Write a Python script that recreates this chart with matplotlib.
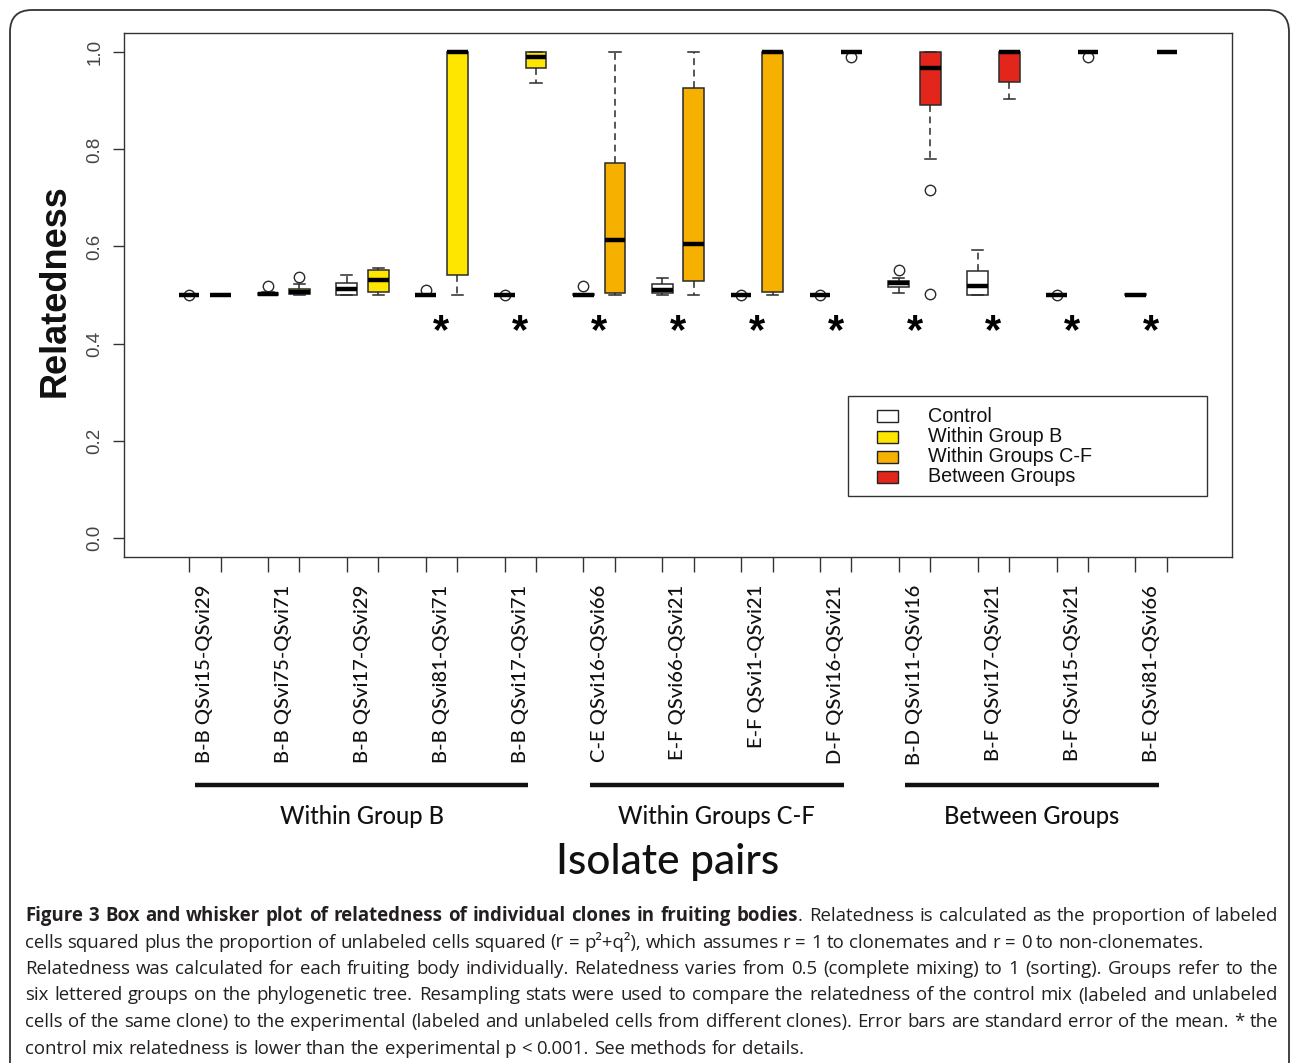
import matplotlib
matplotlib.use("Agg")
import matplotlib.pyplot as plt
import matplotlib.transforms as mtransforms
from matplotlib.patches import Rectangle, FancyBboxPatch
import numpy as np

# ---------------- data ----------------
pair_labels = [
    "B-B QSvi15-QSvi29", "B-B QSvi75-QSvi71", "B-B QSvi17-QSvi29",
    "B-B QSvi81-QSvi71", "B-B QSvi17-QSvi71", "C-E QSvi16-QSvi66",
    "E-F QSvi66-QSvi21", "E-F QSvi1-QSvi21", "D-F QSvi16-QSvi21",
    "B-D QSvi11-QSvi16", "B-F QSvi17-QSvi21", "B-F QSvi15-QSvi21",
    "B-E QSvi81-QSvi66",
]
group_names = ["Within Group B", "Within Groups C-F", "Between Groups"]
pair_group = [0, 0, 0, 0, 0, 1, 1, 1, 1, 2, 2, 2, 2]
significant = [False, False, False, True, True, True, True, True, True,
               True, True, True, True]

# control (labeled + unlabeled of same clone)
ctrl_q1 = [0.500, 0.500, 0.500, 0.500, 0.500, 0.500, 0.505, 0.500, 0.500, 0.517, 0.500, 0.500, 0.500]
ctrl_med = [0.500, 0.502, 0.512, 0.500, 0.500, 0.501, 0.511, 0.500, 0.500, 0.524, 0.519, 0.500, 0.501]
ctrl_q3 = [0.500, 0.504, 0.525, 0.500, 0.500, 0.502, 0.522, 0.500, 0.500, 0.528, 0.549, 0.500, 0.502]
ctrl_lo = [0.500, 0.500, 0.500, 0.500, 0.500, 0.500, 0.500, 0.500, 0.500, 0.505, 0.500, 0.500, 0.500]
ctrl_hi = [0.500, 0.506, 0.542, 0.500, 0.500, 0.503, 0.535, 0.500, 0.500, 0.535, 0.593, 0.500, 0.502]
ctrl_fliers = [[0.501], [0.518], [], [0.510], [0.500], [0.518], [], [0.500], [0.500], [0.552], [], [0.500], []]

# experimental (labeled + unlabeled of different clones)
exp_q1 = [0.500, 0.502, 0.506, 0.541, 0.968, 0.504, 0.528, 0.507, 1.000, 0.891, 0.939, 1.000, 1.000]
exp_med = [0.500, 0.506, 0.531, 1.000, 0.990, 0.613, 0.606, 1.000, 1.000, 0.967, 1.000, 1.000, 1.000]
exp_q3 = [0.500, 0.512, 0.552, 1.000, 1.000, 0.773, 0.926, 1.000, 1.000, 1.000, 1.000, 1.000, 1.000]
exp_lo = [0.500, 0.500, 0.500, 0.500, 0.936, 0.500, 0.500, 0.500, 1.000, 0.780, 0.905, 1.000, 1.000]
exp_hi = [0.500, 0.522, 0.555, 1.000, 1.000, 1.000, 1.000, 1.000, 1.000, 1.000, 1.000, 1.000, 1.000]
exp_fliers = [[], [0.537], [], [], [], [], [], [], [0.991], [0.717, 0.502], [], [0.991], []]

legend_labels = ["Control", "Within Group B", "Within Groups C-F", "Between Groups"]
control_color = "#FFFFFF"
group_colors = ["#FFE600", "#F6B000", "#E2261B"]

caption_lines = [
    [("Figure 3 Box and whisker plot of relatedness of individual clones in fruiting bodies", "bold"),
     (". Relatedness is calculated as the proportion of labeled", "normal")],
    [("cells squared plus the proportion of unlabeled cells squared (r = p\u00b2+q\u00b2), which assumes r = 1 to clonemates and r = 0 to non-clonemates.", "normal")],
    [("Relatedness was calculated for each fruiting body individually. Relatedness varies from 0.5 (complete mixing) to 1 (sorting). Groups refer to the", "normal")],
    [("six lettered groups on the phylogenetic tree. Resampling stats were used to compare the relatedness of the control mix (labeled and unlabeled", "normal")],
    [("cells of the same clone) to the experimental (labeled and unlabeled cells from different clones). Error bars are standard error of the mean. * the", "normal")],
    [("control mix relatedness is lower than the experimental p < 0.001. See methods for details.", "normal")],
]
caption_justified = [True, False, True, True, True, False]

# ---------------- figure ----------------
W, H = 1290, 1063
fig = plt.figure(figsize=(W / 100, H / 100), dpi=100)
fig.patch.set_facecolor("white")

ax_l, ax_r, ax_t, ax_b = 124, 1232, 33, 557
ax = fig.add_axes([ax_l / W, 1 - ax_b / H, (ax_r - ax_l) / W, (ax_b - ax_t) / H])

n = len(pair_labels)
pair_step = 2.5
ctrl_pos = [1 + pair_step * i for i in range(n)]
exp_pos = [2 + pair_step * i for i in range(n)]
mid_pos = [(a + b) / 2 for a, b in zip(ctrl_pos, exp_pos)]


def make_stats(q1, med, q3, lo, hi, fl):
    return [dict(q1=a, med=b, q3=c, whislo=d, whishi=e, fliers=f)
            for a, b, c, d, e, f in zip(q1, med, q3, lo, hi, fl)]


stats = make_stats(ctrl_q1, ctrl_med, ctrl_q3, ctrl_lo, ctrl_hi, ctrl_fliers) + \
    make_stats(exp_q1, exp_med, exp_q3, exp_lo, exp_hi, exp_fliers)
positions = ctrl_pos + exp_pos
fills = [control_color] * n + [group_colors[g] for g in pair_group]

edge = "#2a2a2a"
bp = ax.bxp(stats, positions=positions, widths=0.66, capwidths=0.36,
            patch_artist=True, showfliers=True, manage_ticks=False,
            boxprops=dict(edgecolor=edge, linewidth=1.1),
            whiskerprops=dict(color=edge, linewidth=1.1, linestyle=(0, (4.5, 3))),
            capprops=dict(color=edge, linewidth=1.1),
            medianprops=dict(color="black", linewidth=3.2, solid_capstyle="butt"),
            flierprops=dict(marker="o", markerfacecolor="none", markeredgecolor=edge,
                            markersize=7.5, markeredgewidth=1.0))
for patch, c in zip(bp["boxes"], fills):
    patch.set_facecolor(c)

# significance stars
for m, s in zip(mid_pos, significant):
    if s:
        ax.text(m, 0.424, "*", ha="center", va="center", fontsize=30,
                fontweight="bold", family="Liberation Sans", color="black")

ax.set_ylim(-0.04, 1.04)
ax.set_xlim(1 - 65 / 31.5, exp_pos[-1] + 65 / 31.5)

# axes styling
for sp in ax.spines.values():
    sp.set_color("#333333")
    sp.set_linewidth(1.0)
ax.set_yticks([0.0, 0.2, 0.4, 0.6, 0.8, 1.0])
ax.set_yticklabels(["0.0", "0.2", "0.4", "0.6", "0.8", "1.0"],
                   rotation=90, va="center", family="Liberation Sans",
                   fontsize=13.5, color="#444444")
ax.tick_params(axis="y", length=8, width=1.0, color="#333333", pad=7)

ax.set_xticks(positions)
ax.set_xticklabels([])
ax.tick_params(axis="x", which="major", length=11, width=1.0, color="#333333")
ax.set_xticks(mid_pos, minor=True)
ax.set_xticklabels(pair_labels, minor=True, rotation=90, va="top", ha="center",
                   family="Lato", fontweight="medium", fontsize=14.5, color="#111111")
ax.tick_params(axis="x", which="minor", length=0, pad=20)

# manual legend (R-style)
def pxax(px, py):
    return ((px - ax_l) / (ax_r - ax_l), (ax_b - py) / (ax_b - ax_t))

x0, y1 = pxax(848, 396)
x1, y0 = pxax(1207, 496)
ax.add_patch(Rectangle((x0, y0), x1 - x0, y1 - y0, transform=ax.transAxes,
                       facecolor="white", edgecolor="#333333", linewidth=1.0, zorder=5))
leg_colors = [control_color] + group_colors
row_y = [416, 436.5, 457, 477]
for lab, col, ry in zip(legend_labels, leg_colors, row_y):
    hx0, hy1 = pxax(877, ry - 6)
    hx1, hy0 = pxax(898, ry + 6)
    ax.add_patch(Rectangle((hx0, hy0), hx1 - hx0, hy1 - hy0, transform=ax.transAxes,
                           facecolor=col, edgecolor="#222222", linewidth=1.0, zorder=6))
    tx, ty = pxax(928, ry)
    ax.text(tx, ty, lab, transform=ax.transAxes, ha="left", va="center",
            family="Liberation Sans", fontsize=14.2, color="#111111", zorder=6)

# y label
fig.text(55 / W, 1 - 291 / H, "Relatedness", rotation=90, ha="center", va="center",
         family="Liberation Sans", fontweight="bold", fontsize=26, color="#111111")

# group bars and labels
bar_tr = mtransforms.blended_transform_factory(ax.transData, fig.transFigure)
for g, name in enumerate(group_names):
    idx = [i for i, pg in enumerate(pair_group) if pg == g]
    xs = mid_pos[idx[0]] - 0.3
    xe = mid_pos[idx[-1]] + 0.25
    yb = 1 - 785 / H
    fig.add_artist(plt.Line2D([xs, xe], [yb, yb], transform=bar_tr, color="#111111",
                              linewidth=3.2, solid_capstyle="butt"))
    fig.text((xs + xe) / 2, 1 - 816 / H, name, transform=bar_tr, ha="center", va="center",
             family="Lato", fontweight="medium", fontsize=17, color="#111111")

fig.text(668 / W, 1 - 862 / H, "Isolate pairs", ha="center", va="center",
         family="Lato", fontweight="medium", fontsize=30.5, color="#111111")

# caption (justified lines)
renderer = fig.canvas.get_renderer()
cap_font = "Open Sans"
cx0, cx1 = 25, 1278


def text_width(s, weight, size):
    t = fig.text(0, 0, s, family=cap_font, fontweight=weight, fontsize=size)
    w = t.get_window_extent(renderer).width
    t.remove()
    return w


# choose font size so the longest line fits
natural = []
for line in caption_lines:
    natural.append(sum(text_width(s, w, 10) for s, w in line))
cap_size = 10 * (cx1 - cx0) / max(natural) * 0.99

baselines = [921, 947.5, 974, 1000.5, 1027, 1053.5]
for li, (line, by) in enumerate(zip(caption_lines, baselines)):
    tokens = []
    for s, w in line:
        parts = s.split(" ")
        for k, p in enumerate(parts):
            if k == 0 and tokens and not s.startswith(" "):
                tokens[-1].append((p, w))
            else:
                tokens.append([(p, w)])
    tokens = [[(p, w) for p, w in tok if p] for tok in tokens]
    tokens = [t for t in tokens if t]
    widths = [sum(text_width(p, w, cap_size) for p, w in tok) for tok in tokens]
    space = text_width("a a", "normal", cap_size) - text_width("aa", "normal", cap_size)
    if caption_justified[li] and len(tokens) > 1:
        gap = (cx1 - cx0 - sum(widths)) / (len(tokens) - 1)
    else:
        gap = space
    x = cx0
    for tok, tw in zip(tokens, widths):
        xx = x
        for p, w in tok:
            fig.text(xx / W, 1 - by / H, p, family=cap_font, fontweight=w,
                     fontsize=cap_size, ha="left", va="baseline", color="#231f20")
            xx += text_width(p, w, cap_size)
        x += tw + gap

# outer rounded frame
frame = FancyBboxPatch((10, -30), 1279, 1063 - 10 + 30,
                       boxstyle="round,pad=0,rounding_size=22",
                       transform=mtransforms.IdentityTransform(),
                       facecolor="none", edgecolor="#333333", linewidth=1.3)
fig.add_artist(frame)

fig.savefig("out.png", dpi=100, facecolor="white")
